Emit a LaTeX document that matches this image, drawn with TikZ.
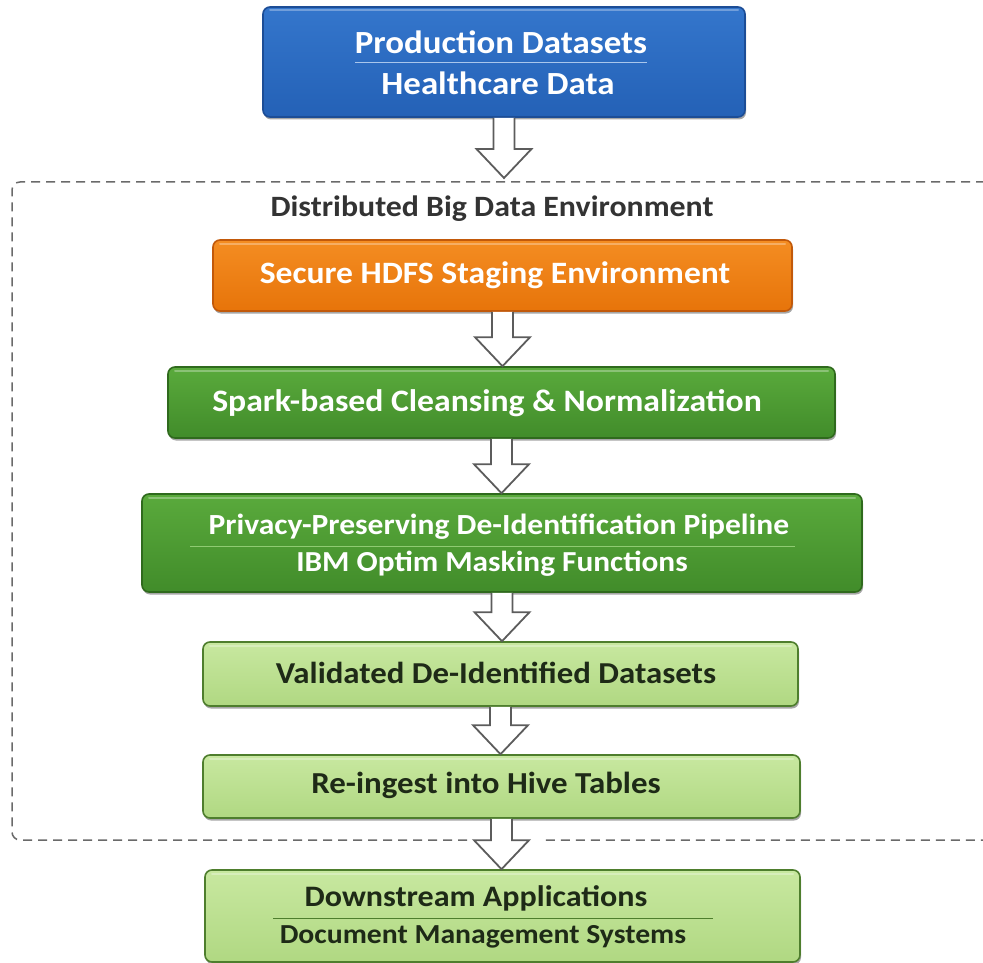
\documentclass[tikz,border=0pt]{standalone}
\usepackage{fontspec}
\setmainfont{Carlito}[FakeStretch=1.08]
\usetikzlibrary{shadows,calc}

\definecolor{blueTop}{HTML}{3476CC}
\definecolor{blueBot}{HTML}{2461B6}
\definecolor{blueEdge}{HTML}{1C4D96}
\definecolor{blueRule}{HTML}{A9C6EC}
\definecolor{orTop}{HTML}{F48D22}
\definecolor{orBot}{HTML}{E7740A}
\definecolor{orEdge}{HTML}{C2590A}
\definecolor{dgTop}{HTML}{5AAA3C}
\definecolor{dgBot}{HTML}{418C2A}
\definecolor{dgEdge}{HTML}{2F6A1D}
\definecolor{dgRule}{HTML}{8FCB72}
\definecolor{lgTop}{HTML}{C8E8A0}
\definecolor{lgBot}{HTML}{B0D882}
\definecolor{lgEdge}{HTML}{4E7E2D}
\definecolor{lgText}{HTML}{1E2A17}
\definecolor{frameGray}{HTML}{6A6A6A}
\definecolor{arrowGray}{HTML}{5C5C5C}
\definecolor{titleGray}{HTML}{333333}

% hollow block arrow between two points (usually node anchors)
\newcommand\hollowarrow[2]{%
  \draw[harrow] let \p1=(#1), \p2=(#2) in
    ({\x1-10.5pt},\y1) -- ({\x1-10.5pt},{\y2+29pt}) -- ({\x1-27.5pt},{\y2+29pt})
    -- (\x1,\y2) -- ({\x1+27.5pt},{\y2+29pt}) -- ({\x1+10.5pt},{\y2+29pt})
    -- ({\x1+10.5pt},\y1);}

\begin{document}
\begin{tikzpicture}[x=1pt,y=-1pt,
  panel/.style={rounded corners=7pt, line width=1.6pt, inner sep=0pt,
    drop shadow={shadow xshift=1pt, shadow yshift=-2.5pt, opacity=0.35, fill=black},
    path picture={\draw[white, opacity=0.3, line width=2pt, line cap=round]
      ($(path picture bounding box.north west)+(7pt,-3.5pt)$) --
      ($(path picture bounding box.north east)+(-7pt,-3.5pt)$);}},
  bluebox/.style={panel, draw=blueEdge, top color=blueTop, bottom color=blueBot},
  orangebox/.style={panel, draw=orEdge, top color=orTop, bottom color=orBot},
  darkbox/.style={panel, draw=dgEdge, top color=dgTop, bottom color=dgBot},
  lightbox/.style={panel, draw=lgEdge, top color=lgTop, bottom color=lgBot},
  wtxt/.style={text=white, inner sep=0pt, anchor=center},
  dtxt/.style={text=lgText, inner sep=0pt, anchor=center},
  fs/.style={font=\bfseries\fontsize{#1}{#1}\selectfont},
  harrow/.style={draw=arrowGray, line width=1.8pt, fill=white, line join=miter},
  frame/.style={draw=frameGray, line width=1.5pt, dash pattern=on 9pt off 6pt, rounded corners=8pt}
]
\useasboundingbox (0,0) rectangle (983,963);

% environment frame, open where the last arrow passes through
\draw[frame] (467,840) -- (12,840) -- (12,182) -- (1010,182) -- (1010,840) -- (541,840);
\node[fs=29.5, text=titleGray, inner sep=0pt] (envtitle) at (492,209) {Distributed Big Data Environment};
\coordinate (envin) at (500,178);

% source box
\node[bluebox, minimum width=482pt, minimum height=110pt] (src) at (504,62) {};
\node[wtxt, fs=32.3] (srcA) at (501,42) {Production Datasets};
\node[wtxt, fs=32.3] (srcB) at (498,83) {Healthcare Data};
\draw[blueRule, line width=0.8pt] (355,62) -- (647,62);

% staging
\node[orangebox, minimum width=579pt, minimum height=71pt] (stage) at (502.5,275.5) {};
\node[wtxt, fs=31.1] (stageT) at (495,275) {Secure HDFS Staging Environment};

% cleansing
\node[darkbox, minimum width=667pt, minimum height=71pt] (spark) at (501.5,402.5) {};
\node[wtxt, fs=31.2] (sparkT) at (487,403) {Spark-based Cleansing \& Normalization};

% de-identification
\node[darkbox, minimum width=720pt, minimum height=98pt] (deid) at (502,543) {};
\node[wtxt, fs=29.2] (deidA) at (499,527) {Privacy-Preserving De-Identification Pipeline};
\node[wtxt, fs=29] (deidB) at (492,564) {IBM Optim Masking Functions};
\draw[dgRule, line width=0.8pt] (190,546) -- (795,546);

% validated output
\node[lightbox, minimum width=595pt, minimum height=64pt] (valid) at (500.5,674) {};
\node[dtxt, fs=30.4] (validT) at (496,673) {Validated De-Identified Datasets};

% hive
\node[lightbox, minimum width=597pt, minimum height=63pt] (hive) at (501.5,786.5) {};
\node[dtxt, fs=30.5] (hiveT) at (486,785) {Re-ingest into Hive Tables};

% downstream
\node[lightbox, minimum width=595pt, minimum height=92pt] (down) at (502.5,916) {};
\node[dtxt, fs=29.7] (downA) at (476,898) {Downstream Applications};
\node[dtxt, fs=27.5] (downB) at (483,937) {Document Management Systems};
\draw[lgEdge, line width=1pt] (273,918) -- (713,918);

% flow arrows
\hollowarrow{src.south}{envin}
\hollowarrow{stage.south}{spark.north}
\hollowarrow{spark.south}{deid.north}
\hollowarrow{deid.south}{valid.north}
\hollowarrow{valid.south}{hive.north}
\hollowarrow{hive.south}{down.north}
\end{tikzpicture}
\end{document}
